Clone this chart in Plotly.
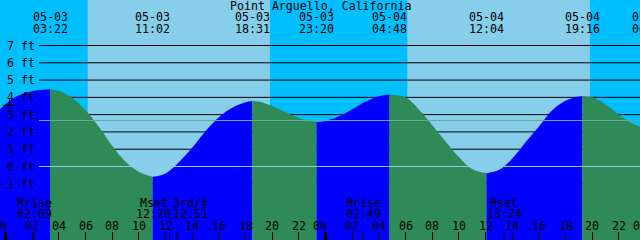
import pandas as pd
import plotly.graph_objects as go

# ---------------- data ----------------
TITLE = "Point Arguello, California"

# hourly tide heights (ft), starting 05-02 23:00
hourly_start = "2025-05-02 23:00"
hourly_ft = [2.85, 3.6, 4.12, 4.35, 4.45, 4.38, 3.97, 3.25, 2.3, 1.2,
             0.28, -0.3, -0.58, -0.4, 0.25, 1.08, 2.04, 2.85, 3.4, 3.72,
             3.76, 3.5, 3.15, 2.8, 2.6, 2.63, 2.9, 3.3, 3.75, 4.07,
             4.15, 4.0, 3.3, 2.4, 1.45, 0.55, -0.15, -0.39, -0.2, 0.45,
             1.4, 2.3, 3.25, 3.8, 4.05, 4.0, 3.6, 3.0, 2.5, 2.2]

# high / low tide events
event_times = ["2025-05-03 03:22", "2025-05-03 11:02", "2025-05-03 18:31",
               "2025-05-03 23:20", "2025-05-04 04:48", "2025-05-04 12:04",
               "2025-05-04 19:16", "2025-05-05 00:16"]
event_ft = [4.47, -0.6, 3.79, 2.57, 4.16, -0.39, 4.06, 2.15]

# daylight
sunrise_times = ["2025-05-03 06:10", "2025-05-04 06:08"]
sunset_times = ["2025-05-03 19:50", "2025-05-04 19:50"]

# moon events
moon_times = ["2025-05-03 02:09", "2025-05-03 12:20", "2025-05-03 12:51",
              "2025-05-04 02:49", "2025-05-04 13:24"]
moon_names = ["Mrise", "Mset", "3rd/4", "Mrise", "Mset"]
moon_label_shift = [0, -16, 14, 0, 0]

# marker
mark_time = ["2025-05-03 00:17"]
mark_ft = [3.54]

y_tick_ft = [-1, 0, 1, 2, 3, 4, 5, 6, 7]
msl_ft = 2.66
datum_ft = 0

hour_label_start = "2025-05-03 00:00"
hour_label_end = "2025-05-05 00:00"
midnights = ["2025-05-03 00:00", "2025-05-04 00:00"]

x_range = ["2025-05-02 23:35:15", "2025-05-04 23:35:15"]
y_range = [-4.252, 9.632]

# ---------------- style ----------------
W, H = 640, 240
NIGHT = "#00BFFF"
DAY = "#87CEEB"
FLOOD = "#0000FF"
EBB = "#2E8B57"
DATUM_COLOR = "#87CEEB"
MSL_COLOR = "#62AE98"
FONT = dict(family="DejaVu Sans Mono", size=11.6, color="black")
BASE = -6

x0t, x1t = pd.Timestamp(x_range[0]), pd.Timestamp(x_range[1])


def xpaper(t):
    t = pd.Timestamp(t)
    return (t - x0t) / (x1t - x0t)


def ypaper(px):
    return 1 - px / H


# ---------------- build tide segments ----------------
hours = pd.date_range(hourly_start, periods=len(hourly_ft), freq="h")
ev_t = pd.to_datetime(event_times)
pts = []
for t, h in zip(hours, hourly_ft):
    if min(abs((t - e).total_seconds()) for e in ev_t) > 600:
        pts.append((t, h, False))
for t, h in zip(ev_t, event_ft):
    pts.append((t, h, True))
pts.sort(key=lambda p: p[0])

segs = []
cur = [pts[0]]
for p in pts[1:]:
    cur.append(p)
    if p[2]:
        segs.append(cur)
        cur = [p]
if len(cur) > 1:
    segs.append(cur)

fig = go.Figure()
for seg in segs:
    xs = [p[0] for p in seg]
    ys = [p[1] for p in seg]
    color = FLOOD if ys[-1] > ys[0] else EBB
    fig.add_trace(go.Scatter(x=[xs[0], xs[-1]], y=[BASE, BASE], mode="lines",
                             line=dict(width=0), hoverinfo="skip", showlegend=False))
    fig.add_trace(go.Scatter(x=xs, y=ys, mode="lines", fill="tonexty",
                             fillcolor=color, line=dict(width=0, shape="spline"),
                             hoverinfo="skip", showlegend=False))

fig.add_trace(go.Scatter(x=mark_time, y=mark_ft, mode="markers",
                         marker=dict(symbol="cross-thin", size=9,
                                     line=dict(width=1, color="black")),
                         hoverinfo="skip", showlegend=False))

shapes = []
for sr, ss in zip(sunrise_times, sunset_times):
    shapes.append(dict(type="rect", xref="x", yref="paper", x0=sr, x1=ss, y0=0, y1=1,
                       fillcolor=DAY, line=dict(width=0), layer="below"))
for v in y_tick_ft:
    if v == datum_ft:
        continue
    shapes.append(dict(type="line", xref="paper", yref="y", x0=39 / W, x1=1, y0=v, y1=v,
                       line=dict(color="black", width=1), layer="below"))
for v, c in [(datum_ft, DATUM_COLOR), (msl_ft, MSL_COLOR)]:
    shapes.append(dict(type="line", xref="paper", yref="y", x0=39 / W, x1=1, y0=v, y1=v,
                       line=dict(color=c, width=1), layer="above"))
for m in midnights:
    shapes.append(dict(type="line", xref="x", yref="paper", x0=m, x1=m, y0=0, y1=8 / H,
                       line=dict(color="black", width=3), layer="above"))
for m in moon_times:
    shapes.append(dict(type="line", xref="x", yref="paper", x0=m, x1=m, y0=0, y1=8 / H,
                       line=dict(color="black", width=1), layer="above"))

ann = []


def add_text(text, x, ypx, xanchor="center", xshift=0, xref="paper", yref="paper", y=None):
    ann.append(dict(text=text, x=x, y=(ypaper(ypx) if y is None else y), xref=xref,
                    yref=yref, xanchor=xanchor, yanchor="middle", showarrow=False,
                    font=FONT, xshift=xshift, borderpad=0))


add_text(TITLE, 0.5, 6)
for t in event_times:
    ts = pd.Timestamp(t)
    add_text(ts.strftime("%m-%d"), xpaper(ts), 17.5)
    add_text(ts.strftime("%H:%M"), xpaper(ts), 28.7)
for v in y_tick_ft:
    add_text(f"{v} ft", 35.8 / W, 0, xanchor="right", yref="y", y=v)
for t, name, sh in zip(moon_times, moon_names, moon_label_shift):
    ts = pd.Timestamp(t)
    add_text(name, xpaper(ts), 202.5, xshift=sh)
    add_text(ts.strftime("%H:%M"), xpaper(ts), 214, xshift=sh)
for ts in pd.date_range(hour_label_start, hour_label_end, freq="2h"):
    add_text(ts.strftime("%H"), xpaper(ts), 226, xshift=(-6 if ts.hour == 0 else 0))

fig.update_layout(
    width=W, height=H, autosize=False,
    margin=dict(l=0, r=0, t=0, b=0, pad=0),
    paper_bgcolor=NIGHT, plot_bgcolor=NIGHT,
    showlegend=False,
    xaxis=dict(type="date", range=x_range, showgrid=False, zeroline=False,
               showline=False, ticks="inside", ticklen=8, tickwidth=1,
               tickcolor="black", dtick=7200000, tick0=hour_label_start,
               showticklabels=False, fixedrange=True),
    yaxis=dict(range=y_range, showgrid=False, zeroline=False, showline=False,
               showticklabels=False, ticks="", fixedrange=True),
    shapes=shapes,
    annotations=ann,
)

fig.write_html("out.html")
